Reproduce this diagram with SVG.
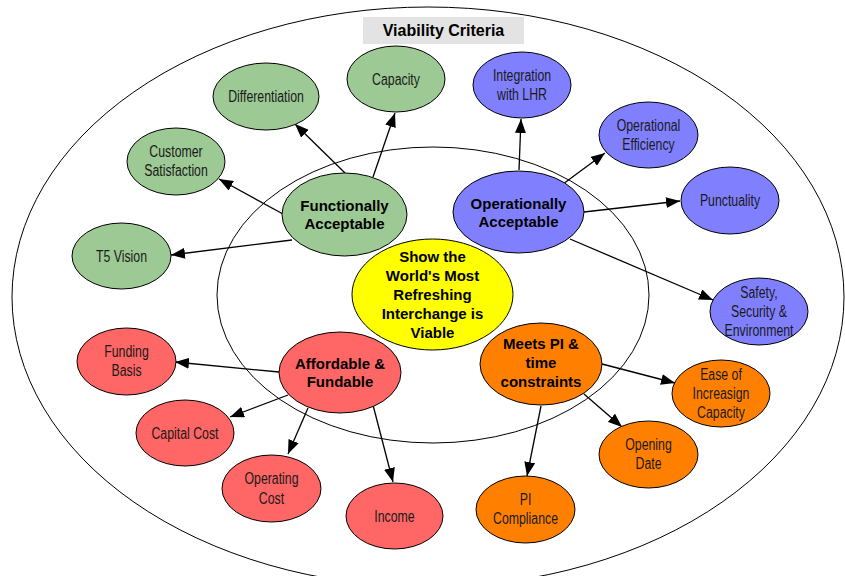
<svg xmlns="http://www.w3.org/2000/svg" width="845" height="576" viewBox="0 0 845 576">
<defs>
<marker id="ah" markerUnits="userSpaceOnUse" markerWidth="14" markerHeight="11" refX="14" refY="5.5" orient="auto">
<path d="M0,0 L14,5.5 L0,11 z" fill="#000"/>
</marker>
<style>
.ring{fill:none;stroke:#000;stroke-width:1}
.n{stroke:#000;stroke-width:1}
.g{fill:#9DC994}
.b{fill:#8080FF}
.r{fill:#FF6666}
.o{fill:#FF8000}
.y{fill:#FFFF00}
.t{font-family:"Liberation Sans",Arial,sans-serif;font-size:16px;fill:#1a1a1a;text-anchor:middle}
.bt{font-family:"Liberation Sans",Arial,sans-serif;font-size:15px;font-weight:bold;fill:#000;text-anchor:middle}
#connectors line{stroke:#000;stroke-width:1.3;marker-end:url(#ah)}
</style>
</defs>
<rect width="845" height="576" fill="#fff"/>
<ellipse class="ring" cx="428" cy="297" rx="416" ry="290"/>
<ellipse class="ring" cx="433" cy="295" rx="216" ry="148"/>
<g id="title">
<rect x="363" y="17" width="161" height="27" fill="#E3E3E3"/>
<text x="443.5" y="36" style="font-family:'Liberation Sans',Arial,sans-serif;font-size:16px;font-weight:bold;text-anchor:middle">Viability Criteria</text>
</g>
<g id="connectors">
<line x1="345" y1="173" x2="295" y2="124"/>
<line x1="373" y1="177" x2="395" y2="113"/>
<line x1="283" y1="214" x2="219" y2="179"/>
<line x1="292" y1="240" x2="171" y2="255"/>
<line x1="519" y1="170" x2="521" y2="119"/>
<line x1="563" y1="184" x2="605" y2="153"/>
<line x1="584" y1="212" x2="680" y2="201"/>
<line x1="570" y1="239" x2="713" y2="300"/>
<line x1="279" y1="372" x2="175" y2="362"/>
<line x1="288" y1="395" x2="230" y2="417"/>
<line x1="308" y1="408" x2="288" y2="454"/>
<line x1="373" y1="405" x2="393" y2="482"/>
<line x1="602" y1="364" x2="675" y2="383"/>
<line x1="584" y1="394" x2="622" y2="427"/>
<line x1="541" y1="406" x2="527" y2="476"/>
</g>
<g id="center">
<ellipse class="n y" cx="432.5" cy="294.5" rx="80.5" ry="55.5"/>
<text class="bt"><tspan x="432.5" y="262">Show the</tspan><tspan x="432.5" y="281">World's Most</tspan><tspan x="432.5" y="300">Refreshing</tspan><tspan x="432.5" y="319">Interchange is</tspan><tspan x="432.5" y="338">Viable</tspan></text>
</g>
<g id="functionally">
<ellipse class="n g" cx="344.5" cy="214.5" rx="62.5" ry="41.5"/>
<text class="bt"><tspan x="344.5" y="211">Functionally</tspan><tspan x="344.5" y="229">Acceptable</tspan></text>
</g>
<g id="operationally">
<ellipse class="n b" cx="518.5" cy="212" rx="65.5" ry="41"/>
<text class="bt"><tspan x="518.5" y="208.5">Operationally</tspan><tspan x="518.5" y="226.5">Acceptable</tspan></text>
</g>
<g id="affordable">
<ellipse class="n r" cx="340" cy="372.5" rx="61" ry="40.5"/>
<text class="bt"><tspan x="340" y="369">Affordable &amp;</tspan><tspan x="340" y="387">Fundable</tspan></text>
</g>
<g id="meets">
<ellipse class="n o" cx="541" cy="364" rx="61" ry="41"/>
<text class="bt"><tspan x="541" y="349">Meets PI &amp;</tspan><tspan x="541" y="368">time</tspan><tspan x="541" y="387">constraints</tspan></text>
</g>
<g id="capacity">
<ellipse class="n g" cx="396" cy="79" rx="49" ry="33"/>
<text class="t" transform="translate(396 0) scale(0.77 1)" x="0" y="85">Capacity</text>
</g>
<g id="differentiation">
<ellipse class="n g" cx="266" cy="96.5" rx="53" ry="33.5"/>
<text class="t" transform="translate(266 0) scale(0.77 1)" x="0" y="102.5">Differentiation</text>
</g>
<g id="customer-satisfaction">
<ellipse class="n g" cx="176" cy="161.5" rx="49" ry="33.5"/>
<text class="t" transform="translate(176 0) scale(0.77 1)"><tspan x="0" y="157.5">Customer</tspan><tspan x="0" y="176.5">Satisfaction</tspan></text>
</g>
<g id="t5-vision">
<ellipse class="n g" cx="121.5" cy="256" rx="49.5" ry="33"/>
<text class="t" transform="translate(121.5 0) scale(0.77 1)" x="0" y="262">T5 Vision</text>
</g>
<g id="integration">
<ellipse class="n b" cx="522" cy="85" rx="49" ry="33"/>
<text class="t" transform="translate(522 0) scale(0.77 1)"><tspan x="0" y="81">Integration</tspan><tspan x="0" y="100">with LHR</tspan></text>
</g>
<g id="operational-efficiency">
<ellipse class="n b" cx="648.5" cy="135" rx="49.5" ry="33"/>
<text class="t" transform="translate(648.5 0) scale(0.77 1)"><tspan x="0" y="131">Operational</tspan><tspan x="0" y="150">Efficiency</tspan></text>
</g>
<g id="punctuality">
<ellipse class="n b" cx="730" cy="200.5" rx="49" ry="33.5"/>
<text class="t" transform="translate(730 0) scale(0.77 1)" x="0" y="206.5">Punctuality</text>
</g>
<g id="safety">
<ellipse class="n b" cx="759" cy="311.5" rx="49" ry="33.5"/>
<text class="t" transform="translate(759 0) scale(0.77 1)"><tspan x="0" y="298.5">Safety,</tspan><tspan x="0" y="317.5">Security &amp;</tspan><tspan x="0" y="336.5">Environment</tspan></text>
</g>
<g id="funding-basis">
<ellipse class="n r" cx="126.5" cy="361.5" rx="49.5" ry="33.5"/>
<text class="t" transform="translate(126.5 0) scale(0.77 1)"><tspan x="0" y="357.5">Funding</tspan><tspan x="0" y="376.5">Basis</tspan></text>
</g>
<g id="capital-cost">
<ellipse class="n r" cx="185" cy="433" rx="49" ry="33"/>
<text class="t" transform="translate(185 0) scale(0.77 1)" x="0" y="439">Capital Cost</text>
</g>
<g id="operating-cost">
<ellipse class="n r" cx="271.5" cy="488.5" rx="49.5" ry="33.5"/>
<text class="t" transform="translate(271.5 0) scale(0.77 1)"><tspan x="0" y="484.5">Operating</tspan><tspan x="0" y="503.5">Cost</tspan></text>
</g>
<g id="income">
<ellipse class="n r" cx="394.5" cy="516" rx="48.5" ry="33"/>
<text class="t" transform="translate(394.5 0) scale(0.77 1)" x="0" y="522">Income</text>
</g>
<g id="ease">
<ellipse class="n o" cx="721" cy="393.5" rx="49" ry="33.5"/>
<text class="t" transform="translate(721 0) scale(0.77 1)"><tspan x="0" y="380.5">Ease of</tspan><tspan x="0" y="399.5">Increasign</tspan><tspan x="0" y="418.5">Capacity</tspan></text>
</g>
<g id="opening-date">
<ellipse class="n o" cx="648.5" cy="454.5" rx="49.5" ry="33.5"/>
<text class="t" transform="translate(648.5 0) scale(0.77 1)"><tspan x="0" y="450.5">Opening</tspan><tspan x="0" y="469.5">Date</tspan></text>
</g>
<g id="pi-compliance">
<ellipse class="n o" cx="525.5" cy="509.5" rx="49.5" ry="33.5"/>
<text class="t" transform="translate(525.5 0) scale(0.77 1)"><tspan x="0" y="505.5">PI</tspan><tspan x="0" y="524.5">Compliance</tspan></text>
</g>
</svg>
